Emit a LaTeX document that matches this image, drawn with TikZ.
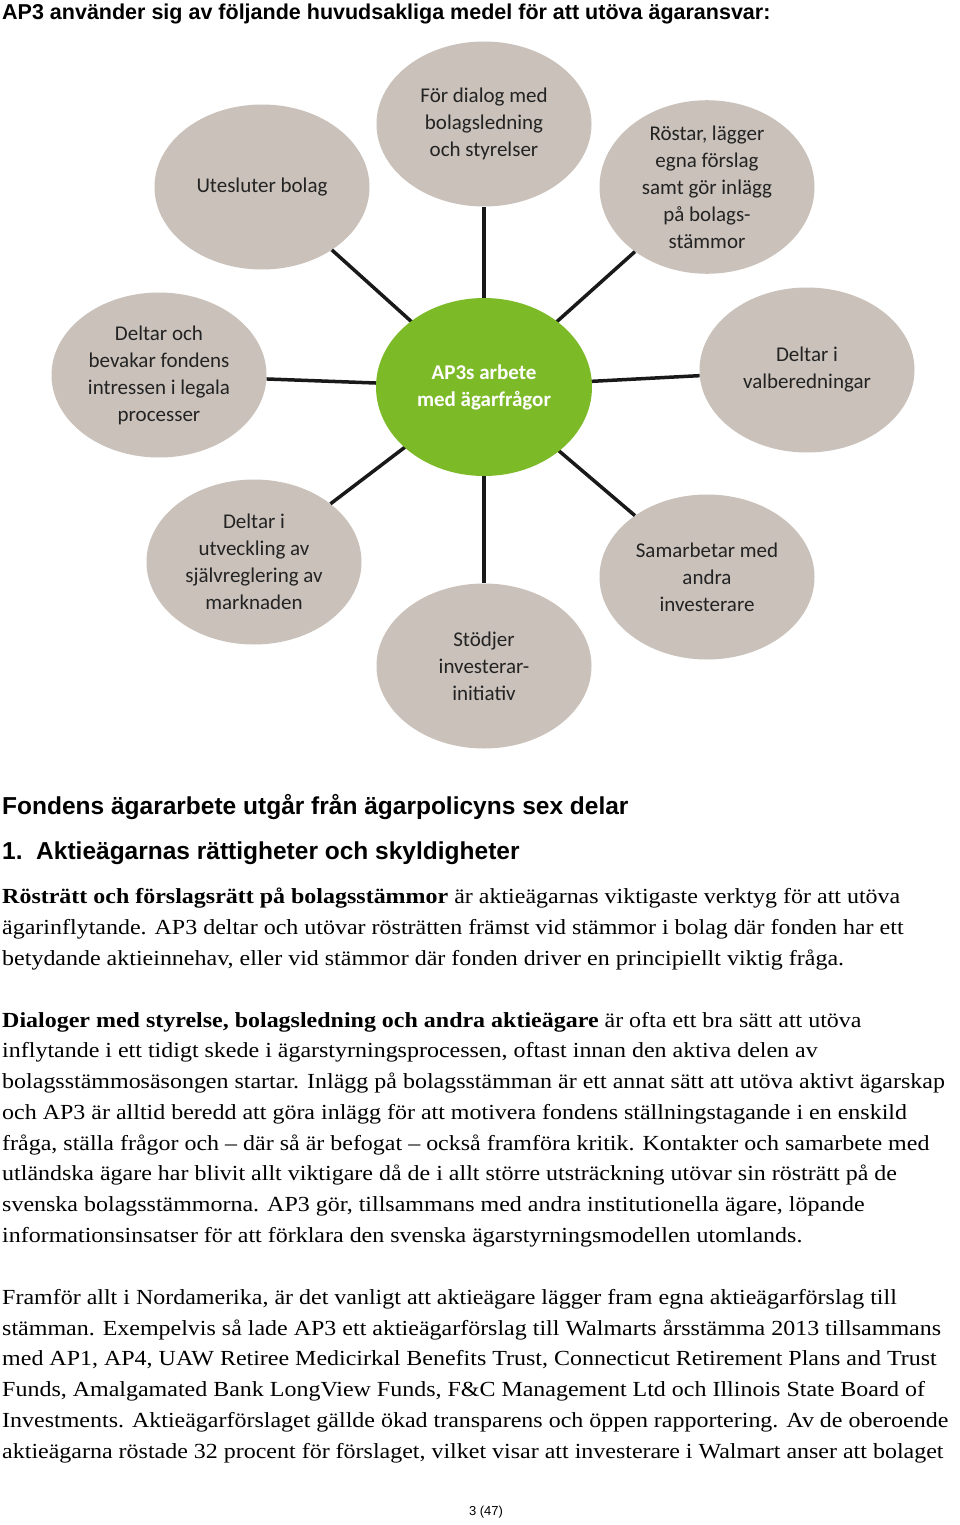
\documentclass[tikz,border=0pt]{standalone}
\usepackage{fontspec}
\usetikzlibrary{shapes.geometric}
\setmainfont{Liberation Serif}
\newfontfamily\hs{Liberation Sans}
\newfontfamily\cs{Carlito}
\definecolor{cg}{RGB}{201,193,186}
\definecolor{gr}{RGB}{125,186,40}
\definecolor{tx}{RGB}{35,35,35}
\begin{document}
\begin{tikzpicture}[x=1pt,y=-1pt,
  outer/.style={ellipse,fill=cg,minimum width=215pt,minimum height=165pt,inner sep=0pt,align=center,font=\cs\fontsize{21}{27}\selectfont,text=tx},
  hub/.style={ellipse,fill=gr,minimum width=216pt,minimum height=178pt,inner sep=0pt,align=center,font=\cs\bfseries\fontsize{21}{27}\selectfont,text=white},
  link/.style={line width=3.5pt,black!90},
  body/.style={anchor=base west,inner sep=0pt,font=\fontsize{21.5}{24}\selectfont,xscale=1.115,transform shape},
  head/.style={anchor=base west,inner sep=0pt,font=\hs\bfseries\fontsize{24.5}{28}\selectfont}]
\useasboundingbox (0,0) rectangle (960,1525);
\fill[white] (0,0) rectangle (960,1525);
\node[head,font=\hs\bfseries\fontsize{21.5}{26}\selectfont] (h0) at (2,20) {AP3 använder sig av följande huvudsakliga medel för att utöva ägaransvar:};
\node[outer] (a1) at (262,187) {Utesluter bolag};
\node[outer] (a2) at (484,124) {För dialog med\\bolagsledning\\och styrelser};
\node[outer] (a3) at (707,187) {Röstar, lägger\\egna förslag\\samt gör inlägg\\på bolags-\\stämmor};
\node[outer] (a4) at (807,370) {Deltar i\\valberedningar};
\node[outer] (a5) at (707,577) {Samarbetar med\\andra\\investerare};
\node[outer] (a6) at (484,666) {Stödjer\\investerar-\\initiativ};
\node[outer] (a7) at (254,562) {Deltar i\\utveckling av\\självreglering av\\marknaden};
\node[outer] (a8) at (159,375) {Deltar och\\bevakar fondens\\intressen i legala\\processer};
\foreach \n in {a1,a2,a3,a4,a5,a6,a7,a8} \draw[link] (484,387) -- (\n);
\node[hub] (c) at (484,387) {AP3s arbete\\med ägarfrågor};
\node[head] (h1) at (2,814) {Fondens ägararbete utgår från ägarpolicyns sex delar};
\node[head] (h2) at (2,859) {1.\ \ Aktieägarnas rättigheter och skyldigheter};
\node[body] (l1) at (2,903) {\textbf{Rösträtt och förslagsrätt på bolagsstämmor} är aktieägarnas viktigaste verktyg för att utöva};
\node[body] (l2) at (2,934) {ägarinflytande. AP3 deltar och utövar rösträtten främst vid stämmor i bolag där fonden har ett};
\node[body] (l3) at (2,965) {betydande aktieinnehav, eller vid stämmor där fonden driver en principiellt viktig fråga.};
\node[body] (l4) at (2,1027) {\textbf{Dialoger med styrelse, bolagsledning och andra aktieägare} är ofta ett bra sätt att utöva};
\node[body] (l5) at (2,1057) {inflytande i ett tidigt skede i ägarstyrningsprocessen, oftast innan den aktiva delen av};
\node[body] (l6) at (2,1088) {bolagsstämmosäsongen startar. Inlägg på bolagsstämman är ett annat sätt att utöva aktivt ägarskap};
\node[body] (l7) at (2,1119) {och AP3 är alltid beredd att göra inlägg för att motivera fondens ställningstagande i en enskild};
\node[body] (l8) at (2,1150) {fråga, ställa frågor och – där så är befogat – också framföra kritik. Kontakter och samarbete med};
\node[body] (l9) at (2,1180) {utländska ägare har blivit allt viktigare då de i allt större utsträckning utövar sin rösträtt på de};
\node[body] (l10) at (2,1211) {svenska bolagsstämmorna. AP3 gör, tillsammans med andra institutionella ägare, löpande};
\node[body] (l11) at (2,1242) {informationsinsatser för att förklara den svenska ägarstyrningsmodellen utomlands.};
\node[body] (l12) at (2,1304) {Framför allt i Nordamerika, är det vanligt att aktieägare lägger fram egna aktieägarförslag till};
\node[body] (l13) at (2,1335) {stämman. Exempelvis så lade AP3 ett aktieägarförslag till Walmarts årsstämma 2013 tillsammans};
\node[body] (l14) at (2,1365) {med AP1, AP4, UAW Retiree Medicirkal Benefits Trust, Connecticut Retirement Plans and Trust};
\node[body] (l15) at (2,1396) {Funds, Amalgamated Bank LongView Funds, F\&C Management Ltd och Illinois State Board of};
\node[body] (l16) at (2,1427) {Investments. Aktieägarförslaget gällde ökad transparens och öppen rapportering. Av de oberoende};
\node[body] (l17) at (2,1458) {aktieägarna röstade 32 procent för förslaget, vilket visar att investerare i Walmart anser att bolaget};
\node[font=\hs\fontsize{13}{16}\selectfont,inner sep=0pt] (pg) at (486,1512) {3 (47)};
\end{tikzpicture}
\end{document}
